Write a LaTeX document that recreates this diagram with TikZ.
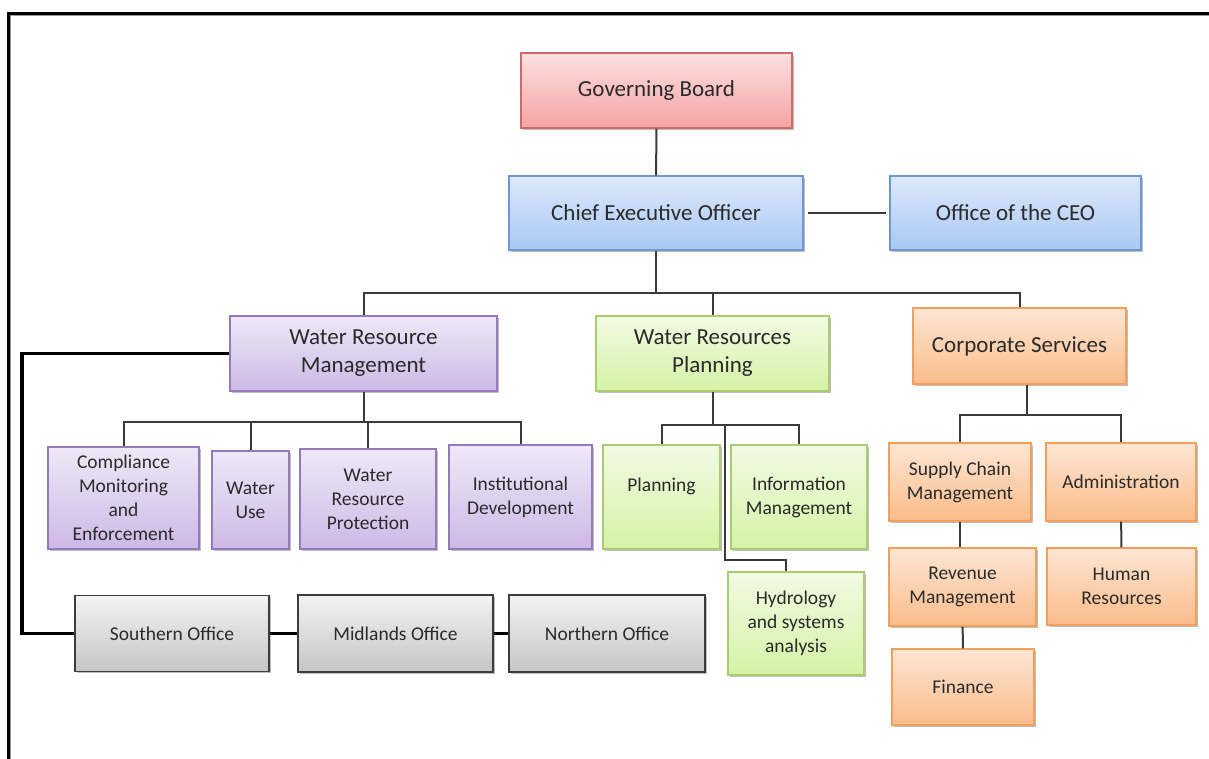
\documentclass[tikz,border=0pt]{standalone}
\usepackage{fontspec}
\setmainfont{Carlito}
\usetikzlibrary{shadows}

\definecolor{inktext}{HTML}{2A2A2A}
\definecolor{linkgrey}{HTML}{3A3A3A}
\definecolor{boardtop}{HTML}{FDE0E0}
\definecolor{boardbot}{HTML}{F5A3A3}
\definecolor{boardline}{HTML}{D06A6A}
\definecolor{ceotop}{HTML}{DDE9FB}
\definecolor{ceobot}{HTML}{A9C8F4}
\definecolor{ceoline}{HTML}{6E97CF}
\definecolor{wrmtop}{HTML}{EEE8F7}
\definecolor{wrmbot}{HTML}{CDB9E6}
\definecolor{wrmline}{HTML}{9579BA}
\definecolor{wrptop}{HTML}{F2FBE3}
\definecolor{wrpbot}{HTML}{D4F2A6}
\definecolor{wrpline}{HTML}{A9CC72}
\definecolor{corptop}{HTML}{FDE6D4}
\definecolor{corpbot}{HTML}{FBBC8A}
\definecolor{corpline}{HTML}{F49E5C}
\definecolor{offtop}{HTML}{F2F2F2}
\definecolor{offbot}{HTML}{C6C6C6}
\definecolor{offline}{HTML}{3C3C3C}

\tikzset{box/.style={rectangle,inner sep=0pt,align=center,text=inktext,line width=1.4pt,
            drop shadow={shadow xshift=1.5pt,shadow yshift=-1.8pt,opacity=0.25,fill=black}},
        big/.style={font=\fontsize{23}{28}\selectfont},
        small/.style={font=\fontsize{19.5}{24}\selectfont},
        boardbox/.style={box,big,draw=boardline,top color=boardtop,bottom color=boardbot},
        ceobox/.style={box,big,draw=ceoline,top color=ceotop,bottom color=ceobot},
        wrmbox/.style={box,draw=wrmline,top color=wrmtop,bottom color=wrmbot},
        wrpbox/.style={box,draw=wrpline,top color=wrptop,bottom color=wrpbot},
        corpbox/.style={box,draw=corpline,top color=corptop,bottom color=corpbot},
        officebox/.style={box,small,draw=offline,line width=1.8pt,top color=offtop,bottom color=offbot},
        link/.style={draw=linkgrey,line width=2pt},
        heavy/.style={draw=black,line width=3.6pt}}

\begin{document}
\begin{tikzpicture}[x=1pt,y=-1pt]
        \useasboundingbox (0,0) rectangle (1209,759);
        \draw[black,line width=3pt] (8.5,759) -- (8.5,13.5) -- (1209,13.5);
        \draw[black!40,line width=1.4pt] (10.7,759) -- (10.7,15.7) -- (1209,15.7);

        \node[boardbox,minimum width=271pt,minimum height=75pt] (gb) at (656.5,90.5) {Governing Board};
        \node[ceobox,minimum width=294pt,minimum height=74pt] (ceo) at (656,213) {Chief Executive Officer};
        \node[ceobox,minimum width=251pt,minimum height=74pt] (oceo) at (1015.5,213) {Office of the CEO};

        \node[wrmbox,big,minimum width=267pt,minimum height=75pt] (wrm) at (363.5,353.5) {Water Resource\\Management};
        \node[wrpbox,big,minimum width=233pt,minimum height=75pt] (wrp) at (712.5,353.5) {Water Resources\\Planning};
        \node[corpbox,big,minimum width=213pt,minimum height=76pt] (cs) at (1019.5,346) {Corporate Services};

        \node[wrmbox,small,minimum width=151pt,minimum height=102pt] (comp) at (123.5,498) {Compliance\\Monitoring\\and\\Enforcement};
        \node[wrmbox,small,minimum width=77pt,minimum height=98pt] (wuse) at (250.5,500) {Water\\Use};
        \node[wrmbox,small,minimum width=136pt,minimum height=100pt] (wprot) at (368,499) {Water\\Resource\\Protection};
        \node[wrmbox,small,minimum width=143pt,minimum height=104pt] (inst) at (520.5,497) {Institutional\\Development};

        \node[wrpbox,small,minimum width=117pt,minimum height=104pt] (plan) at (661.5,497) {Planning\\\mbox{}};
        \node[wrpbox,small,minimum width=136pt,minimum height=104pt] (info) at (799,497) {Information\\Management};
        \node[wrpbox,small,minimum width=136pt,minimum height=103pt] (hydro) at (796,623.5) {Hydrology\\and systems\\analysis};

        \node[corpbox,small,minimum width=142pt,minimum height=78pt] (scm) at (960,482) {Supply Chain\\Management};
        \node[corpbox,small,minimum width=150pt,minimum height=78pt] (admin) at (1121,482) {Administration};
        \node[corpbox,small,minimum width=147pt,minimum height=78pt] (rev) at (962.5,587) {Revenue\\Management};
        \node[corpbox,small,minimum width=149pt,minimum height=77pt] (hr) at (1121.5,586.5) {Human\\Resources};
        \node[corpbox,small,minimum width=142pt,minimum height=76pt] (fin) at (963,687) {Finance};

        \node[officebox,minimum width=194pt,minimum height=76pt] (south) at (172,633.5) {Southern Office};
        \node[officebox,minimum width=195pt,minimum height=77pt] (mid) at (395.5,633.5) {Midlands Office};
        \node[officebox,minimum width=196pt,minimum height=77pt] (north) at (607,633.5) {Northern Office};

        \coordinate (topbus) at (656,293);
        \coordinate (wrmbus) at (363.5,422);
        \coordinate (wrpbus) at (712.5,425);
        \coordinate (hydtop) at (725,425);
        \coordinate (hydjoin) at (786,560);
        \coordinate (csbus) at (1027,415);
        \coordinate (wrmbend) at (22,353.5);

        \path [link] (gb) -- (ceo);
        \path [link,shorten <=4pt,shorten >=3pt] (ceo) -- (oceo);
        \path [link] (ceo) -- (topbus) -| (wrm);
        \path [link] (topbus) -| (wrp);
        \path [link] (topbus) -| (cs);

        \path [link] (wrm) -- (wrmbus) -| (comp);
        \path [link] (wrmbus) -| (wuse);
        \path [link] (wrmbus) -| (wprot);
        \path [link] (wrmbus) -| (inst);

        \path [link] (wrp) -- (wrpbus) -| (plan);
        \path [link] (wrpbus) -| (info);
        \path [link] (hydtop) |- (hydjoin) -- (hydjoin |- hydro.north);

        \path [link] (csbus |- cs.south) -- (csbus) -| (scm);
        \path [link] (csbus) -| (admin);
        \path [link] (scm.south) -- (scm.south |- rev.north);
        \path [link] (rev) -- (fin);
        \path [link] (admin) -- (hr);

        \path [heavy] (wrm) -- (wrmbend) |- (south);
        \path [heavy] (south) -- (mid) -- (north);
\end{tikzpicture}
\end{document}
